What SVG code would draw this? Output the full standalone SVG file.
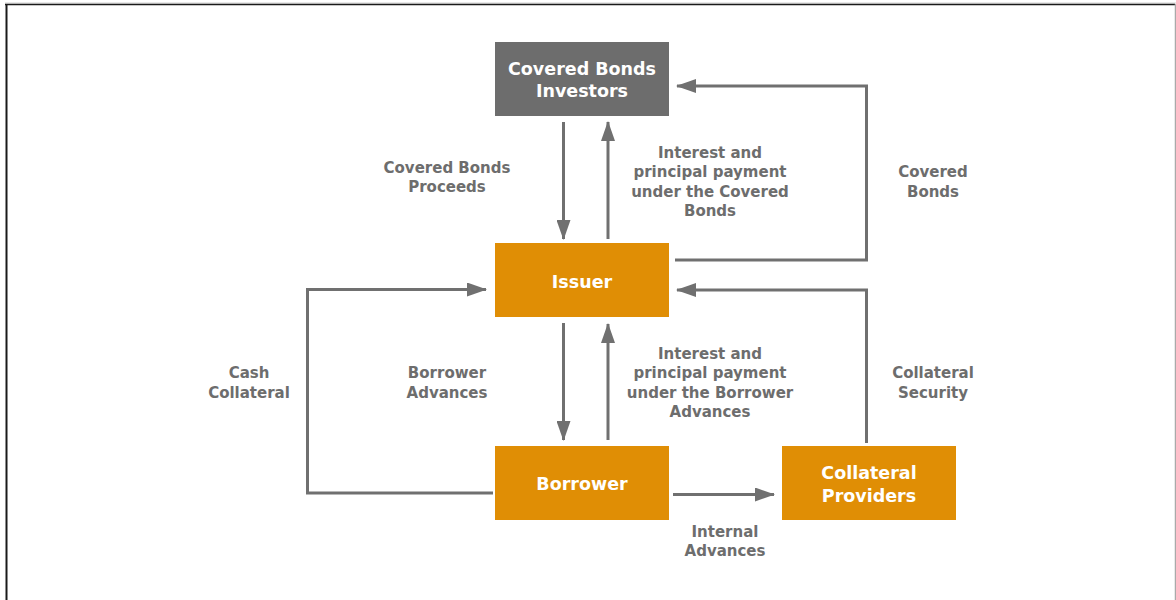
<svg xmlns="http://www.w3.org/2000/svg" width="1176" height="600" viewBox="0 0 1176 600">
<style>
.box-grey{fill:#6d6d6d}
.box-orange{fill:#e08e05}
.bt{font-family:"DejaVu Sans",Verdana,sans-serif;font-weight:bold;font-size:17.5px;fill:#ffffff;text-anchor:middle}
.lt{font-family:"DejaVu Sans",Verdana,sans-serif;font-weight:bold;font-size:15px;fill:#6d6d6d;text-anchor:middle}
.c{fill:none;stroke:#707070;stroke-width:3}
</style>
<defs>
<marker id="ah" viewBox="0 0 20 14" refX="19" refY="7" markerWidth="20" markerHeight="14" markerUnits="userSpaceOnUse" orient="auto">
<path d="M0,0 L20,7 L0,14 Z" fill="#707070"/>
</marker>
</defs>
<rect width="1176" height="600" fill="#ffffff"/>
<g id="frame">
<line x1="5" y1="3" x2="1176" y2="3" stroke="#d0d0d0" stroke-width="1"/>
<line x1="5" y1="4.5" x2="1175" y2="4.5" stroke="#1a1a1a" stroke-width="1.5"/>
<line x1="6.5" y1="4" x2="6.5" y2="600" stroke="#1a1a1a" stroke-width="2"/>
<line x1="1175.5" y1="4" x2="1175.5" y2="600" stroke="#aaaaaa" stroke-width="1.5"/>
</g>
<g id="connectors">
<line class="c" x1="563.5" y1="122" x2="563.5" y2="239" marker-end="url(#ah)"/>
<line class="c" x1="608" y1="239" x2="608" y2="122" marker-end="url(#ah)"/>
<polyline class="c" points="675,260 866.5,260 866.5,86 677,86" marker-end="url(#ah)"/>
<polyline class="c" points="866.5,443 866.5,290 677,290" marker-end="url(#ah)"/>
<polyline class="c" points="493,493 307.5,493 307.5,289.5 486,289.5" marker-end="url(#ah)"/>
<line class="c" x1="563.5" y1="323" x2="563.5" y2="440" marker-end="url(#ah)"/>
<line class="c" x1="608" y1="440" x2="608" y2="324" marker-end="url(#ah)"/>
<line class="c" x1="673" y1="494.5" x2="774" y2="494.5" marker-end="url(#ah)"/>
<text class="lt" x="447" y="173">Covered Bonds</text>
<text class="lt" x="447" y="192">Proceeds</text>
<text class="lt" x="710" y="158">Interest and</text>
<text class="lt" x="710" y="177">principal payment</text>
<text class="lt" x="710" y="197">under the Covered</text>
<text class="lt" x="710" y="216">Bonds</text>
<text class="lt" x="933" y="177">Covered</text>
<text class="lt" x="933" y="197">Bonds</text>
<text class="lt" x="249" y="378">Cash</text>
<text class="lt" x="249" y="398">Collateral</text>
<text class="lt" x="447" y="378">Borrower</text>
<text class="lt" x="447" y="398">Advances</text>
<text class="lt" x="710" y="359">Interest and</text>
<text class="lt" x="710" y="378">principal payment</text>
<text class="lt" x="710" y="398">under the Borrower</text>
<text class="lt" x="710" y="417">Advances</text>
<text class="lt" x="933" y="378">Collateral</text>
<text class="lt" x="933" y="398">Security</text>
<text class="lt" x="725" y="537">Internal</text>
<text class="lt" x="725" y="556">Advances</text>
</g>
<g id="investors">
<rect class="box-grey" x="495" y="42" width="174" height="74"/>
<text class="bt" x="582" y="75">Covered Bonds</text>
<text class="bt" x="582" y="97">Investors</text>
</g>
<g id="issuer">
<rect class="box-orange" x="495" y="243" width="174" height="74"/>
<text class="bt" x="582" y="288">Issuer</text>
</g>
<g id="borrower">
<rect class="box-orange" x="495" y="446" width="174" height="74"/>
<text class="bt" x="582" y="490">Borrower</text>
</g>
<g id="collateral-providers">
<rect class="box-orange" x="782" y="446" width="174" height="74"/>
<text class="bt" x="869" y="479">Collateral</text>
<text class="bt" x="869" y="502">Providers</text>
</g>
</svg>
